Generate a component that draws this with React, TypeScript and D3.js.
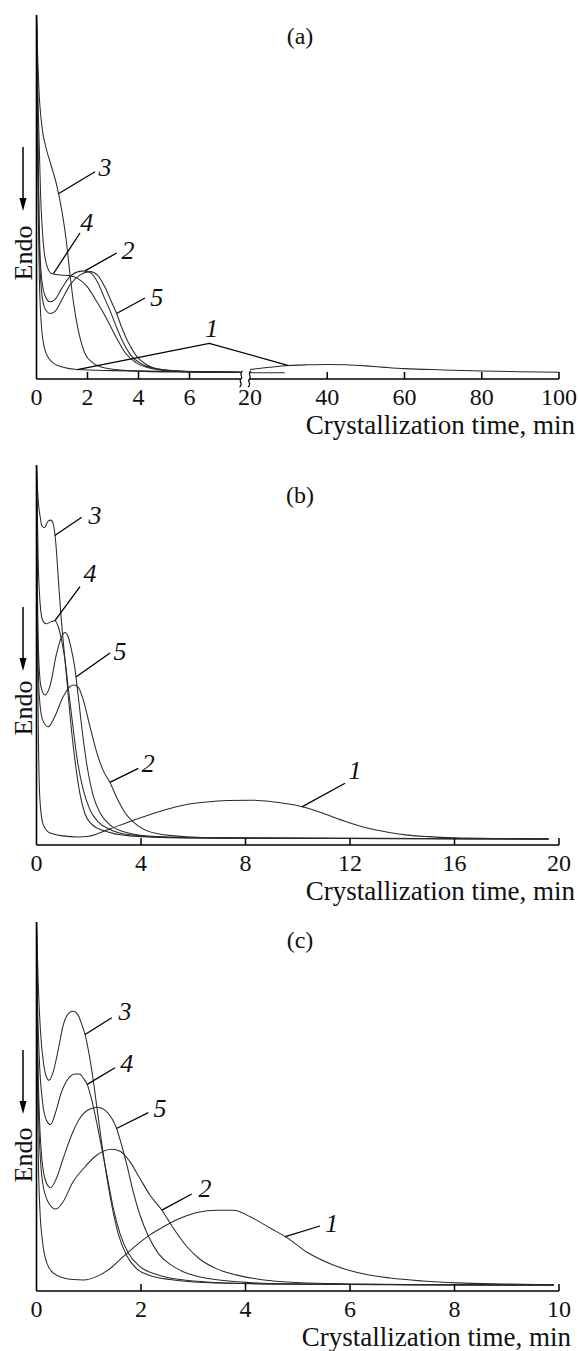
import React from "react";
import * as d3 from "d3";

type P = [number, number];

// ---------- Panel (a): crystallization time, min (broken axis 0–8 | 20–100) ----------
const aTickLabels = [0, 2, 4, 6, 20, 40, 60, 80, 100];
const aTickMarks = [2, 4, 6, 40, 60, 80, 100];
const a1: P[] = [[0, 100], [0.03, 70], [0.06, 50], [0.11, 28], [0.2, 14], [0.33, 8], [0.59, 4.8], [1.05, 3.2], [1.58, 2.6], [3, 2.3], [5, 2.1], [8, 2.0]];
const a1Right: P[] = [[20, 2.6], [25, 3.2], [30, 3.7], [35, 3.9], [40, 4.0], [45, 3.9], [50, 3.6], [55, 3.2], [60, 2.85], [70, 2.5], [80, 2.2], [90, 2.0], [100, 1.85]];
const aOthersRight: P[] = [[20, 1.7], [29, 1.7]];
const a2: P[] = [[0, 100], [0.06, 64], [0.11, 41], [0.2, 27.6], [0.33, 23], [0.53, 21.2], [0.73, 21.9], [0.99, 24.9], [1.31, 28.1], [1.64, 29.5], [1.9, 29.7], [2.15, 29], [2.4, 26.5], [2.65, 22.5], [2.9, 18.5], [3.15, 14], [3.4, 10], [3.7, 6.5], [4.1, 4.2], [4.7, 2.8], [5.8, 2.1], [8, 1.8]];
const a3: P[] = [[0, 100], [0.03, 92], [0.1, 79], [0.22, 69], [0.37, 63.6], [0.56, 59], [0.8, 53], [1.0, 46], [1.15, 39], [1.31, 29], [1.45, 21], [1.65, 13], [1.9, 7], [2.2, 4.5], [2.7, 3], [3.6, 2.3], [5.5, 1.9], [8, 1.8]];
const a4: P[] = [[0, 100], [0.07, 73.7], [0.16, 50.7], [0.27, 37], [0.4, 31.3], [0.59, 29], [0.92, 28.6], [1.31, 28.4], [1.64, 27.5], [1.97, 25.5], [2.3, 22], [2.6, 18.5], [2.9, 14.5], [3.2, 10.5], [3.5, 7], [3.9, 4.5], [4.5, 2.9], [5.5, 2.1], [8, 1.8]];
const a5: P[] = [[0, 100], [0.06, 60], [0.11, 37], [0.2, 24], [0.33, 19.4], [0.53, 18], [0.73, 18.6], [0.99, 21.7], [1.31, 25.8], [1.71, 28.6], [2.1, 29.5], [2.4, 28.5], [2.7, 25], [2.95, 21], [3.14, 18], [3.35, 14], [3.6, 10], [3.9, 6.5], [4.3, 4], [4.9, 2.6], [6, 2], [8, 1.8]];

// ---------- Panel (b): 0–20 min ----------
const bTickLabels = [0, 4, 8, 12, 16, 20];
const bTickMarks = [4, 8, 12, 16, 20];
const b1: P[] = [[0, 100], [0.03, 60], [0.07, 30], [0.13, 12], [0.25, 5.5], [0.5, 3.2], [1.0, 2.4], [1.6, 2.1], [2.0, 2.3], [2.8, 4.2], [3.5, 6.0], [4.3, 7.9], [5.0, 9.4], [5.7, 10.6], [6.5, 11.3], [7.3, 11.7], [8.2, 11.8], [9.0, 11.4], [9.9, 10.5], [10.6, 9.2], [11.3, 7.5], [12.0, 5.8], [12.7, 4.4], [13.5, 3.3], [14.2, 2.6], [15.0, 2.2], [16.0, 1.9], [18.0, 1.7], [19.6, 1.6]];
const b2: P[] = [[0, 100], [0.04, 57.5], [0.1, 40], [0.23, 33], [0.45, 31.1], [0.7, 33.8], [1.02, 39], [1.28, 41.7], [1.43, 42.1], [1.6, 41.5], [1.79, 38.2], [2.05, 31.1], [2.3, 24.5], [2.56, 19.5], [2.81, 16.5], [3.07, 12.5], [3.39, 8.5], [3.84, 5.3], [4.6, 3], [5.9, 2.1], [8, 1.8], [19.6, 1.6]];
const b3: P[] = [[0, 100], [0.03, 95], [0.064, 90.8], [0.15, 86], [0.2, 84], [0.3, 83.5], [0.45, 85.3], [0.55, 85.5], [0.64, 84.5], [0.74, 79.4], [0.83, 70.6], [0.92, 61.8], [1.02, 53.9], [1.15, 44.3], [1.3, 32.9], [1.47, 22.4], [1.66, 13.6], [1.85, 8.3], [2.11, 5.5], [2.56, 3.8], [3.58, 2.4], [5.5, 1.9], [19.6, 1.6]];
const b4: P[] = [[0, 100], [0.064, 75], [0.128, 64.5], [0.23, 59.2], [0.36, 58.2], [0.58, 58.8], [0.7, 59], [0.83, 57.5], [0.96, 53.9], [1.09, 48.7], [1.21, 41.7], [1.38, 32], [1.56, 22.4], [1.79, 14.5], [2.05, 9.2], [2.37, 6], [2.81, 4.1], [3.58, 2.7], [5.5, 1.9], [19.6, 1.6]];
const b5: P[] = [[0, 100], [0.038, 66.2], [0.09, 48.7], [0.17, 41.7], [0.32, 39.5], [0.51, 41.7], [0.77, 50.4], [0.96, 54.8], [1.09, 55.9], [1.21, 54.8], [1.34, 51.3], [1.47, 46.5], [1.6, 39], [1.76, 29.4], [1.94, 20.6], [2.17, 13], [2.43, 8.5], [2.81, 5.3], [3.45, 3.3], [4.6, 2.2], [6.8, 1.8], [19.6, 1.6]];

// ---------- Panel (c): 0–10 min ----------
const cTickLabels = [0, 2, 4, 6, 8, 10];
const cTickMarks = [2, 4, 6, 8, 10];
const c1: P[] = [[0, 100], [0.013, 65.7], [0.032, 38.6], [0.064, 22.4], [0.115, 13.4], [0.19, 7.9], [0.32, 4.9], [0.51, 3.6], [0.7, 3.1], [0.9, 3.0], [1.15, 3.9], [1.41, 6.1], [1.66, 9.3], [1.92, 12.5], [2.17, 15.2], [2.43, 17.4], [2.75, 19.7], [3.07, 21.3], [3.45, 21.9], [3.77, 21.9], [4.09, 20.1], [4.48, 17], [4.8, 14.4], [5.18, 10.5], [5.69, 7], [6.14, 5], [6.77, 3.5], [7.4, 2.7], [8.05, 2.2], [9.0, 1.9], [9.9, 1.7]];
const c2: P[] = [[0, 100], [0.019, 65.7], [0.051, 43.1], [0.115, 29.6], [0.22, 24.2], [0.37, 22.2], [0.51, 24.2], [0.7, 29.6], [0.9, 33.2], [1.15, 36.8], [1.44, 38.4], [1.6, 37.9], [1.79, 35], [1.98, 30.5], [2.17, 26], [2.4, 21.9], [2.62, 17], [2.88, 12], [3.13, 8.6], [3.45, 6], [3.84, 4.3], [4.35, 3], [4.99, 2.3], [5.95, 1.9], [7.5, 1.7], [9.9, 1.6]];
const c3: P[] = [[0, 100], [0.032, 83.8], [0.077, 70.2], [0.14, 61.2], [0.19, 58], [0.24, 57.1], [0.32, 59.4], [0.42, 65.7], [0.51, 72], [0.61, 75.2], [0.7, 75.8], [0.8, 74.7], [0.86, 72.5], [0.93, 69.5], [1.01, 63.9], [1.09, 56.7], [1.15, 50.4], [1.21, 44], [1.31, 34.1], [1.44, 23.3], [1.57, 15.2], [1.73, 9.5], [1.92, 6], [2.17, 4.2], [2.56, 3.1], [3.2, 2.3], [4.5, 1.9], [9.9, 1.6]];
const c4: P[] = [[0, 100], [0.019, 79.2], [0.051, 63.9], [0.115, 51.3], [0.19, 46.3], [0.27, 45.1], [0.35, 47.7], [0.48, 54], [0.61, 57.6], [0.74, 58.8], [0.82, 58.8], [0.9, 57.6], [0.97, 56], [1.05, 52.2], [1.15, 45.8], [1.25, 38.6], [1.36, 30.5], [1.47, 22.4], [1.6, 15.5], [1.76, 10.2], [1.98, 6.6], [2.3, 4.5], [2.75, 3.1], [3.45, 2.3], [4.5, 1.9], [9.9, 1.6]];
const c5: P[] = [[0, 100], [0.019, 70.2], [0.045, 52.2], [0.096, 36.8], [0.18, 29.6], [0.27, 28], [0.38, 30.5], [0.51, 35.9], [0.67, 42.2], [0.83, 46.8], [1.02, 49.3], [1.18, 49.8], [1.31, 49], [1.44, 46.8], [1.52, 44.5], [1.63, 39.5], [1.73, 34.1], [1.85, 26.9], [1.98, 20.6], [2.14, 14.9], [2.33, 10.2], [2.56, 7.2], [2.88, 4.8], [3.32, 3.3], [3.96, 2.4], [4.86, 1.9], [6.5, 1.7], [9.9, 1.6]];

const curveNames = ["1", "2", "3", "4", "5"];

const FONT = '"Liberation Serif", "Times New Roman", Times, serif';
const W = 579;
const H = 1351;

function interp(pts: P[], t: number): number {
  for (let i = 1; i < pts.length; i++) {
    if (t <= pts[i][0]) {
      const [t0, v0] = pts[i - 1];
      const [t1, v1] = pts[i];
      return v0 + ((v1 - v0) * (t - t0)) / (t1 - t0);
    }
  }
  return pts[pts.length - 1][1];
}

type Leader = {
  label: string;
  anchors: { pts: P[]; t: number }[]; // curve points the leader touches
  via?: [number, number]; // apex for a two-armed leader
  end: [number, number];
  text: [number, number];
};

type PanelProps = {
  name: string;
  nameXY: [number, number];
  top: number;
  axisY: number;
  x: d3.ScaleLinear<number, number>;
  axisSegments: [number, number][];
  breaks: number[];
  tickMarks: number[];
  tickLabels: number[];
  series: P[][];
  leaders: Leader[];
  titleX: number;
  endoY: number;
  arrow: [number, number];
};

function Panel(p: PanelProps) {
  const y = d3.scaleLinear().domain([0, 100]).range([p.axisY, p.top]);
  const line = d3
    .line<P>()
    .x((d) => p.x(d[0]))
    .y((d) => y(d[1]))
    .curve(d3.curveMonotoneX);
  const ax = p.x(0);
  const [ay0, ay1] = p.arrow;
  return (
    <g>
      {/* curves */}
      {p.series.map((s, i) => (
        <path key={i} d={line(s) || ""} fill="none" stroke="#2a2a2a" strokeWidth={1.05} />
      ))}
      {/* y axis */}
      <line x1={ax} x2={ax} y1={p.top} y2={p.axisY} stroke="#000" strokeWidth={1.6} />
      {/* x axis */}
      {p.axisSegments.map(([s, e], i) => (
        <line key={i} x1={s} x2={e} y1={p.axisY} y2={p.axisY} stroke="#000" strokeWidth={1.6} />
      ))}
      {p.breaks.map((xb, i) => (
        <path
          key={i}
          d={`M ${xb + 1.5},${p.axisY - 8} C ${xb - 3},${p.axisY - 5} ${xb + 3},${p.axisY - 2} ${xb},${p.axisY} C ${xb - 3},${p.axisY + 2} ${xb + 3},${p.axisY + 5} ${xb - 1.5},${p.axisY + 8}`}
          fill="none"
          stroke="#000"
          strokeWidth={1.2}
        />
      ))}
      {p.tickMarks.map((t) => (
        <line key={t} x1={p.x(t)} x2={p.x(t)} y1={p.axisY} y2={p.axisY - 7} stroke="#000" strokeWidth={1.5} />
      ))}
      {p.tickLabels.map((t) => (
        <text key={t} x={p.x(t)} y={p.axisY + 26} textAnchor="middle" fontSize={24} fontFamily={FONT} fill="#111">
          {t}
        </text>
      ))}
      <text x={p.titleX} y={p.axisY + 55} textAnchor="end" fontSize={27} fontFamily={FONT} fill="#111">
        Crystallization time, min
      </text>
      <text x={p.nameXY[0]} y={p.nameXY[1]} textAnchor="middle" fontSize={24} fontFamily={FONT} fill="#111">
        {p.name}
      </text>
      {/* Endo arrow */}
      <line x1={23} x2={23} y1={ay0} y2={ay1 - 11} stroke="#000" strokeWidth={1.5} />
      <polygon points={`${19.5},${ay1 - 13} ${26.5},${ay1 - 13} ${23},${ay1}`} fill="#000" />
      <text
        transform={`translate(31.5,${p.endoY}) rotate(-90)`}
        textAnchor="middle"
        fontSize={26}
        fontFamily={FONT}
        fill="#111"
      >
        Endo
      </text>
      {/* curve labels with leader lines */}
      {p.leaders.map((l, i) => {
        const pts = l.anchors.map((a) => [p.x(a.t), y(interp(a.pts, a.t))] as [number, number]);
        let d: string;
        if (l.via) {
          d = `M ${pts[0][0]},${pts[0][1]} L ${l.via[0]},${l.via[1]} L ${pts[1][0]},${pts[1][1]}`;
        } else {
          d = `M ${pts[0][0]},${pts[0][1]} L ${l.end[0]},${l.end[1]}`;
        }
        return (
          <g key={i}>
            <path d={d} fill="none" stroke="#000" strokeWidth={1.3} />
            <text
              x={l.text[0]}
              y={l.text[1] + 8.5}
              textAnchor="middle"
              fontSize={26}
              fontStyle="italic"
              fontFamily={FONT}
              fill="#111"
            >
              {l.label}
            </text>
          </g>
        );
      })}
    </g>
  );
}

export default function App() {
  const xA = d3.scaleLinear().domain([0, 8, 20, 100]).range([36.5, 240.5, 250, 559]);
  const xB = d3.scaleLinear().domain([0, 20]).range([36.5, 559]);
  const xC = d3.scaleLinear().domain([0, 10]).range([36.5, 559]);

  const [n1, n2, n3, n4, n5] = curveNames;

  return (
    <svg
      width={W}
      height={H}
      viewBox={`0 0 ${W} ${H}`}
      style={{ position: "absolute", left: 0, top: 0, background: "#fff" }}
    >
      <rect x={0} y={0} width={W} height={H} fill="#fff" />
      <Panel
        name="(a)"
        nameXY={[300, 44]}
        top={15}
        axisY={379}
        x={xA}
        axisSegments={[[36.5, 241], [249.5, 559]]}
        breaks={[241, 249.5]}
        tickMarks={aTickMarks}
        tickLabels={aTickLabels}
        series={[a1, a2, a3, a4, a5, a1Right, aOthersRight]}
        titleX={575}
        endoY={253}
        arrow={[147, 211]}
        leaders={[
          { label: n3, anchors: [{ pts: a3, t: 0.86 }], end: [95, 171.7], text: [105, 167] },
          { label: n4, anchors: [{ pts: a4, t: 0.66 }], end: [80, 233], text: [86.7, 222] },
          { label: n2, anchors: [{ pts: a2, t: 1.9 }], end: [116.7, 253], text: [128, 250] },
          { label: n5, anchors: [{ pts: a5, t: 3.14 }], end: [145, 298], text: [156.7, 297] },
          {
            label: n1,
            anchors: [{ pts: a1, t: 1.6 }, { pts: a1Right, t: 30 }],
            via: [209.3, 343.3],
            end: [209.3, 343.3],
            text: [211.7, 328],
          },
        ]}
      />
      <Panel
        name="(b)"
        nameXY={[300, 503]}
        top={465}
        axisY={845}
        x={xB}
        axisSegments={[[36.5, 559]]}
        breaks={[]}
        tickMarks={bTickMarks}
        tickLabels={bTickLabels}
        series={[b1, b2, b3, b4, b5]}
        titleX={575}
        endoY={708}
        arrow={[607, 671]}
        leaders={[
          { label: n3, anchors: [{ pts: b3, t: 0.7 }], end: [81.7, 517.3], text: [95, 515] },
          { label: n4, anchors: [{ pts: b4, t: 0.7 }], end: [80, 586.7], text: [90, 573] },
          { label: n5, anchors: [{ pts: b5, t: 1.51 }], end: [110, 653], text: [120, 651.7] },
          { label: n2, anchors: [{ pts: b2, t: 2.81 }], end: [138.3, 768.3], text: [148.3, 763.3] },
          { label: n1, anchors: [{ pts: b1, t: 10.16 }], end: [345, 783.3], text: [355, 770] },
        ]}
      />
      <Panel
        name="(c)"
        nameXY={[300, 948]}
        top={922}
        axisY={1291}
        x={xC}
        axisSegments={[[36.5, 559]]}
        breaks={[]}
        tickMarks={cTickMarks}
        tickLabels={cTickLabels}
        series={[c1, c2, c3, c4, c5]}
        titleX={571}
        endoY={1155}
        arrow={[1050, 1114]}
        leaders={[
          { label: n3, anchors: [{ pts: c3, t: 0.93 }], end: [111.7, 1017.7], text: [125, 1011.7] },
          { label: n4, anchors: [{ pts: c4, t: 0.97 }], end: [115, 1067.7], text: [126.7, 1063.3] },
          { label: n5, anchors: [{ pts: c5, t: 1.53 }], end: [148.3, 1112.7], text: [160, 1108.3] },
          { label: n2, anchors: [{ pts: c2, t: 2.4 }], end: [191.7, 1194], text: [205, 1188.3] },
          { label: n1, anchors: [{ pts: c1, t: 4.76 }], end: [320, 1226], text: [331.7, 1223.3] },
        ]}
      />
    </svg>
  );
}
